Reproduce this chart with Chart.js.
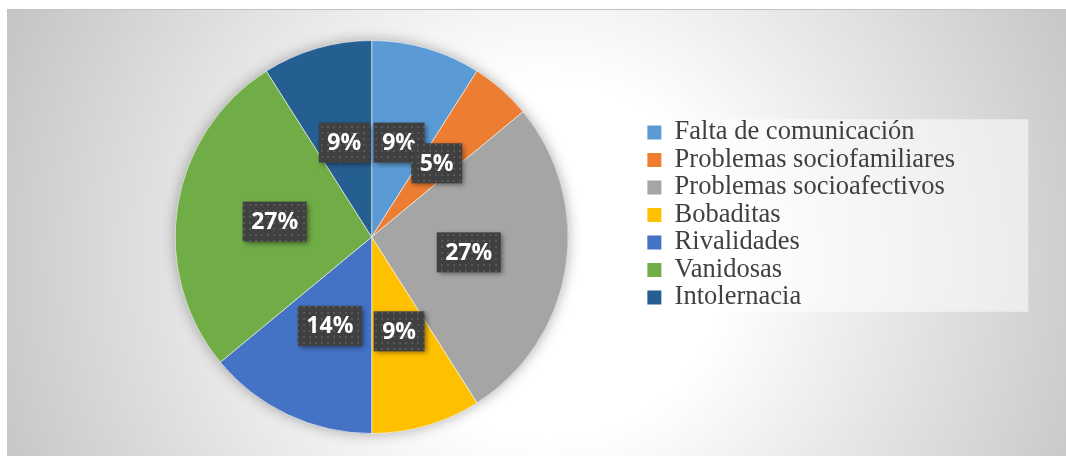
<!DOCTYPE html>
<html>
<head>
<meta charset="utf-8">
<script src="https://cdn.jsdelivr.net/npm/chart.js@4/dist/chart.umd.min.js"></script>
<style>
body { margin: 0; background: #fff; }
#wrap {
    position: absolute; left: 7px; top: 9px; width: 1059px; height: 446px;
    border-top: 1px solid #c2c2c2;
    background: radial-gradient(circle farthest-corner at 540px 250px, #ffffff 0%, #ffffff 30%, #c4c4c4 100%);
}
</style>
</head>
<body>
<div id="wrap"><canvas id="myChart" width="1059" height="446"></canvas></div>
<script>
const categories = ["Falta de comunicación", "Problemas sociofamiliares", "Problemas socioafectivos",
    "Bobaditas", "Rivalidades", "Vanidosas", "Intolernacia"];
const percentages = [9, 5, 27, 9, 14, 27, 9];
const sliceColors = ["#5B9BD5", "#ED7D31", "#A5A5A5", "#FFC000", "#4472C4", "#70AD47", "#255E91"];

//small dotted texture for the value boxes
function makeDots()
{
    const c = document.createElement("canvas");
    c.width = 6; c.height = 6;
    const g = c.getContext("2d");
    g.fillStyle = "rgba(255,255,255,0.13)";
    g.fillRect(2, 2, 2, 2);
    return c;
}

const legendShift = {
    id: "legendShift",
    afterLayout(chart)
    {
        const lg = chart.legend;
        lg.top -= 22;
        lg.bottom -= 22;
        lg.left -= 3;
        lg.right -= 3;
    }
};

const legendPanel = {
    id: "legendPanel",
    beforeDraw(chart)
    {
        const boxes = chart.legend.legendHitBoxes;
        if (!boxes || !boxes.length) return;
        const first = boxes[0], last = boxes[boxes.length - 1];
        const ctx = chart.ctx;
        ctx.save();
        ctx.fillStyle = "rgba(255,255,255,0.55)";
        ctx.fillRect(first.left - 62, first.top, 443, last.top + last.height - first.top + 1);
        ctx.restore();
    }
};

const pieShadow = {
    id: "pieShadow",
    beforeDatasetsDraw(chart)
    {
        const arc = chart.getDatasetMeta(0).data[0];
        const ctx = chart.ctx;
        ctx.save();
        ctx.shadowColor = "rgba(0,0,0,0.32)";
        ctx.shadowBlur = 14;
        ctx.fillStyle = "#999";
        ctx.beginPath();
        ctx.arc(arc.x, arc.y, arc.outerRadius, 0, Math.PI * 2);
        ctx.fill();
        ctx.restore();
    }
};

const valueLabels = {
    id: "valueLabels",
    afterDatasetsDraw(chart)
    {
        const ctx = chart.ctx;
        const pattern = ctx.createPattern(makeDots(), "repeat");
        ctx.save();
        ctx.font = "700 23px 'Open Sans'";
        ctx.textAlign = "center";
        ctx.textBaseline = "middle";
        chart.getDatasetMeta(0).data.forEach((arc, i) =>
        {
            const {x, y} = arc.tooltipPosition();
            const text = percentages[i] + "%";
            const w = ctx.measureText(text).width + 17, h = 40;
            ctx.save();
            ctx.shadowColor = "rgba(0,0,0,0.45)";
            ctx.shadowBlur = 5;
            ctx.shadowOffsetX = 2;
            ctx.shadowOffsetY = 2;
            ctx.fillStyle = "#404040";
            ctx.fillRect(x - w / 2, y - h / 2, w, h);
            ctx.restore();
            ctx.fillStyle = pattern;
            ctx.fillRect(x - w / 2, y - h / 2, w, h);
            ctx.fillStyle = "#ffffff";
            ctx.fillText(text, x, y + 1);
        });
        ctx.restore();
    }
};

const ctx = document.getElementById("myChart").getContext("2d");
new Chart(ctx, {
    type: "pie",
    data: {
        labels: categories,
        datasets: [{
            data: percentages,
            backgroundColor: sliceColors,
            borderColor: "rgba(255,255,255,0.6)",
            borderWidth: 1
        }]
    },
    options: {
        responsive: false,
        animation: false,
        layout: {padding: {left: 87, right: 98, top: 30, bottom: 22}},
        plugins: {
            tooltip: {enabled: false},
            legend: {
                position: "right",
                labels: {
                    boxWidth: 14,
                    boxHeight: 14,
                    padding: 1,
                    color: "#404040",
                    font: {family: "'Liberation Serif', 'Times New Roman', serif", size: 26.5},
                    generateLabels: chart => Chart.overrides.doughnut.plugins.legend.labels.generateLabels(chart)
                        .map(item => ({...item, lineWidth: 0}))
                }
            }
        }
    },
    plugins: [legendShift, legendPanel, pieShadow, valueLabels]
});
</script>
</body>
</html>
